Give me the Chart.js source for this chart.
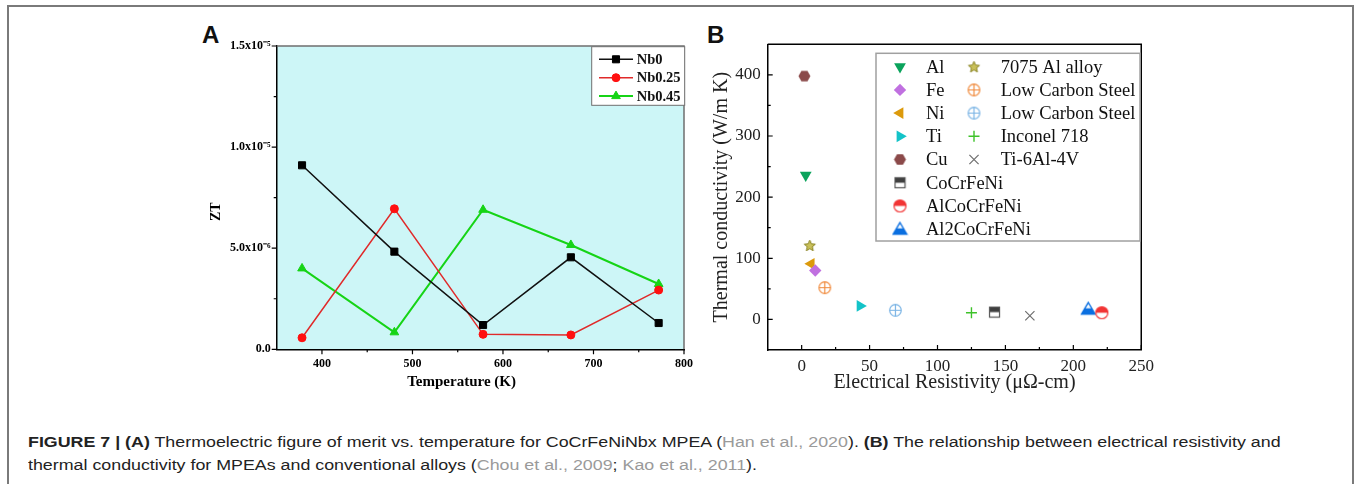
<!DOCTYPE html>
<html>
<head>
<meta charset="utf-8">
<script src="https://cdn.jsdelivr.net/npm/chart.js@4.4.0/dist/chart.umd.min.js"></script>
<style>
  html, body { margin: 0; padding: 0; background: #fff; }
  body { width: 1354px; height: 484px; position: relative; overflow: hidden; font-family: 'Liberation Sans', Arial, sans-serif; }
  .frame { position: absolute; left: 7px; top: 5px; width: 1347px; height: 520px; border: 2px solid #7a7a7a; border-bottom: none; box-sizing: border-box; }
  .panel-label { position: absolute; font: bold 24px 'Liberation Sans', Arial, sans-serif; line-height: 1; color: #111; }
  #chartA { position: absolute; left: 190px; top: 20px; }
  #chartB { position: absolute; left: 700px; top: 20px; }
  .caption { position: absolute; left: 28px; top: 430px; font-size: 15.5px; line-height: 23px; color: #222; white-space: nowrap; transform: scaleX(1.15); transform-origin: 0 0; }
  .caption .ref { color: #9a9a9a; }
</style>
</head>
<body>
<div class="frame"></div>
<div class="panel-label" style="left:202px; top:23px;">A</div>
<div class="panel-label" style="left:707px; top:23px;">B</div>
<canvas id="chartA" width="510" height="380"></canvas>
<canvas id="chartB" width="460" height="380"></canvas>
<div class="caption"><b>FIGURE 7 | (A)</b> Thermoelectric figure of merit vs. temperature for CoCrFeNiNbx MPEA (<span class="ref">Han et al., 2020</span>). <b>(B)</b> The relationship between electrical resistivity and<br>thermal conductivity for MPEAs and conventional alloys (<span class="ref">Chou et al., 2009</span>; <span class="ref">Kao et al., 2011</span>).</div>

<script>
// ZT of CoCrFeNiNbx vs temperature
const temperatures = [378, 480, 578, 675, 772];
const ztNb0   = [9.1e-6, 4.83e-6, 1.2e-6, 4.55e-6, 1.3e-6];
const ztNb025 = [5.7e-7, 6.95e-6, 7.4e-7, 7.1e-7, 2.93e-6];
const ztNb045 = [4.0e-6, 8.4e-7, 6.9e-6, 5.16e-6, 3.23e-6];
const tempTicks = [400, 500, 600, 700, 800];
const ztTicks = [0, 5e-6, 1e-5, 1.5e-5];
const ztTickLabels = ['0.0', '5.0x10⁻⁶', '1.0x10⁻⁵', '1.5x10⁻⁵'];

// resistivity vs thermal conductivity
const alloyNames = ['Al', 'Fe', 'Ni', 'Ti', 'Cu', 'CoCrFeNi', 'AlCoCrFeNi', 'Al2CoCrFeNi',
  '7075 Al alloy', 'Low Carbon Steel', 'Low Carbon Steel', 'Inconel 718', 'Ti-6Al-4V'];
const resistivity  = [3, 10, 7, 43, 2, 142, 221, 211, 6, 17, 69, 125, 168];
const conductivity = [236, 80, 91, 22, 398, 12, 11, 17, 121, 52, 15, 11, 6];
const resTicks = [0, 50, 100, 150, 200, 250];
const condTicks = [0, 100, 200, 300, 400];

const serif = "'Liberation Serif', 'Times New Roman', serif";

// small canvas markers for the symbols Chart.js has no built-in style for
function marker(size, draw) {
  const c = document.createElement('canvas');
  c.width = c.height = size;
  draw(c.getContext('2d'), size / 2);
  return c;
}
const hexagon = marker(15, (g, c) => {
  g.beginPath();
  for (let k = 0; k < 6; k++) {
    const a = k * Math.PI / 3;
    g.lineTo(c + Math.cos(a) * 6, c + Math.sin(a) * 6);
  }
  g.closePath();
  g.fillStyle = '#8b4a4a';
  g.fill();
});
const star = marker(15, (g, c) => {
  g.beginPath();
  for (let k = 0; k < 10; k++) {
    const a = -Math.PI / 2 + k * Math.PI / 5;
    const r = k % 2 ? 2.7 : 5.9;
    g.lineTo(c + Math.cos(a) * r, c + 0.5 + Math.sin(a) * r);
  }
  g.closePath();
  g.fillStyle = '#c9c05a';
  g.fill();
  g.strokeStyle = '#8a8424';
  g.lineWidth = 1;
  g.stroke();
});
function crossedCircle(color) {
  return marker(15, (g, c) => {
    g.strokeStyle = color;
    g.lineWidth = 1.2;
    g.beginPath();
    g.arc(c, c, 5.8, 0, Math.PI * 2);
    g.moveTo(c - 5.8, c); g.lineTo(c + 5.8, c);
    g.moveTo(c, c - 5.8); g.lineTo(c, c + 5.8);
    g.stroke();
  });
}
const halfSquare = marker(13, (g, c) => {
  g.fillStyle = '#fff';
  g.fillRect(c - 5, c - 5, 10, 10);
  g.fillStyle = '#3f3f3f';
  g.fillRect(c - 5, c - 5, 10, 5);
  g.strokeStyle = '#555';
  g.lineWidth = 1.2;
  g.strokeRect(c - 5, c - 5, 10, 10);
});
const halfCircle = marker(15, (g, c) => {
  g.fillStyle = '#fff';
  g.beginPath(); g.arc(c, c, 6, 0, Math.PI * 2); g.fill();
  g.fillStyle = '#f23434';
  g.beginPath(); g.arc(c, c, 6, Math.PI, Math.PI * 2); g.closePath(); g.fill();
  g.strokeStyle = '#f23434';
  g.lineWidth = 1.2;
  g.beginPath(); g.arc(c, c, 6, 0, Math.PI * 2); g.stroke();
});
const halfTriangle = marker(17, (g, c) => {
  const top = c - 6.5, base = c + 5, half = 6.8;
  g.fillStyle = '#fff';
  g.beginPath(); g.moveTo(c, top); g.lineTo(c + half, base); g.lineTo(c - half, base); g.closePath(); g.fill();
  const midY = (top + base) / 2;
  g.fillStyle = '#0b6fe0';
  g.beginPath(); g.moveTo(c - half / 2, midY); g.lineTo(c + half / 2, midY); g.lineTo(c + half, base); g.lineTo(c - half, base); g.closePath(); g.fill();
  g.strokeStyle = '#0b6fe0';
  g.lineWidth = 1.4;
  g.beginPath(); g.moveTo(c, top); g.lineTo(c + half, base); g.lineTo(c - half, base); g.closePath(); g.stroke();
});

const alloyStyles = [
  { style: 'triangle', rotation: 180, radius: 6.8, fill: '#0ba35c' },
  { style: 'rectRot', radius: 6.2, fill: '#c070e0' },
  { style: 'triangle', rotation: -90, radius: 6.8, fill: '#dc9a0c' },
  { style: 'triangle', rotation: 90, radius: 6.8, fill: '#13c3c8' },
  { style: hexagon },
  { style: halfSquare },
  { style: halfCircle },
  { style: halfTriangle },
  { style: star },
  { style: crossedCircle('#f08a3c') },
  { style: crossedCircle('#79b3e4') },
  { style: 'cross', radius: 5.5, line: '#3ec22a', width: 1.4 },
  { style: 'crossRot', radius: 6.5, line: '#6e6e6e', width: 1.2 },
];

// fills the plotting area
const plotBackground = {
  id: 'plotBackground',
  beforeDraw(chart, args, opts) {
    if (!opts.color) return;
    const { ctx, chartArea: a } = chart;
    ctx.save();
    ctx.fillStyle = opts.color;
    ctx.fillRect(a.left, a.top, a.width, a.height);
    ctx.restore();
  }
};

// top/right frame lines plus major and minor tick marks on the left and bottom axes
const frameTicks = {
  id: 'frameTicks',
  afterDraw(chart, args, opts) {
    const { ctx, chartArea: a, scales } = chart;
    ctx.save();
    ctx.strokeStyle = opts.frameColor;
    ctx.lineWidth = opts.frameWidth;
    ctx.beginPath();
    ctx.moveTo(a.left, a.top); ctx.lineTo(a.right, a.top); ctx.lineTo(a.right, a.bottom);
    ctx.stroke();

    const dir = opts.inward ? -1 : 1;
    ctx.strokeStyle = '#000';
    ctx.lineWidth = 1.2;
    const minors = (s) => {
      const v = s.ticks.map(t => t.value);
      const step = v[1] - v[0];
      const out = [];
      for (let m = v[0] - step / 2; m < s.max; m += step) if (m > s.min) out.push(m);
      return out;
    };
    const sx = scales.x, sy = scales.y;
    ctx.beginPath();
    sx.ticks.forEach(t => { const p = sx.getPixelForValue(t.value); ctx.moveTo(p, a.bottom); ctx.lineTo(p, a.bottom + dir * opts.major); });
    minors(sx).forEach(m => { const p = sx.getPixelForValue(m); ctx.moveTo(p, a.bottom); ctx.lineTo(p, a.bottom + dir * opts.minor); });
    sy.ticks.forEach(t => { const p = sy.getPixelForValue(t.value); ctx.moveTo(a.left, p); ctx.lineTo(a.left - dir * opts.major, p); });
    minors(sy).forEach(m => { const p = sy.getPixelForValue(m); ctx.moveTo(a.left, p); ctx.lineTo(a.left - dir * opts.minor, p); });
    ctx.stroke();
    ctx.restore();
  }
};

// boxed legend laid out in columns inside the plot
const boxLegend = {
  id: 'boxLegend',
  afterDraw(chart, args, opts) {
    const { ctx, chartArea: a } = chart;
    const [x0, y0, x1, y1] = opts.box;
    ctx.save();
    ctx.fillStyle = '#fff';
    ctx.fillRect(a.left + x0, a.top + y0, x1 - x0, y1 - y0);
    ctx.strokeStyle = opts.borderColor;
    ctx.lineWidth = opts.borderWidth;
    ctx.strokeRect(a.left + x0, a.top + y0, x1 - x0, y1 - y0);
    ctx.font = opts.font;
    ctx.textBaseline = 'middle';
    ctx.fillStyle = '#111';
    opts.columns.forEach(col => {
      col.items.forEach((i, row) => {
        const ds = chart.data.datasets[i];
        const y = a.top + opts.firstRow + row * opts.rowGap;
        const mx = a.left + col.markerX;
        if (col.lineFrom !== undefined) {
          ctx.strokeStyle = ds.borderColor;
          ctx.lineWidth = ds.borderWidth;
          ctx.beginPath();
          ctx.moveTo(a.left + col.lineFrom, y);
          ctx.lineTo(a.left + col.lineTo, y);
          ctx.stroke();
        }
        ctx.fillStyle = ds.pointBackgroundColor;
        ctx.strokeStyle = ds.pointBorderColor;
        ctx.lineWidth = ds.pointBorderWidth;
        Chart.helpers.drawPoint(ctx, {
          pointStyle: ds.pointStyle, rotation: ds.pointRotation || 0,
          radius: ds.pointRadius, borderWidth: ds.pointBorderWidth
        }, mx, y);
        ctx.fillStyle = '#111';
        ctx.fillText(ds.label, a.left + col.labelX, y + 1);
      });
    });
    ctx.restore();
  }
};

function seriesA(label, values, color, lineColor, style, radius, width) {
  return {
    label,
    data: temperatures.map((t, i) => ({ x: t, y: values[i] })),
    borderColor: lineColor, borderWidth: width,
    pointStyle: style, pointRadius: radius,
    pointBackgroundColor: color, pointBorderColor: color, pointBorderWidth: 1,
    backgroundColor: color
  };
}

new Chart(document.getElementById('chartA'), {
  type: 'line',
  data: {
    datasets: [
      seriesA('Nb0', ztNb0, '#000', '#111', 'rect', 5, 1.5),
      seriesA('Nb0.25', ztNb025, '#ff1010', '#e02a2a', 'circle', 4, 1.5),
      seriesA('Nb0.45', ztNb045, '#16d416', '#16d416', 'triangle', 5, 2)
    ]
  },
  options: {
    responsive: false,
    animation: false,
    layout: { padding: { left: 0, right: 14.3, top: 26, bottom: 0 } },
    plugins: {
      legend: { display: false },
      tooltip: { enabled: false },
      plotBackground: { color: '#cdf6f7' },
      frameTicks: { frameColor: '#6f6f6f', frameWidth: 1.5, inward: false, major: 5, minor: 3 },
      boxLegend: {
        box: [315, 0.7, 408, 59.3], borderColor: '#6f6f6f', borderWidth: 1,
        font: 'bold 14.5px ' + serif, firstRow: 13.3, rowGap: 18.4,
        columns: [{ items: [0, 1, 2], lineFrom: 322.3, lineTo: 356.3, markerX: 339.3, labelX: 360 }]
      }
    },
    scales: {
      x: {
        type: 'linear', min: 350, max: 800,
        afterBuildTicks: s => { s.ticks = tempTicks.map(v => ({ value: v })); },
        afterFit: s => { s.height = 50.7; },
        grid: { drawOnChartArea: false, drawTicks: false },
        border: { color: '#000', width: 1.5 },
        ticks: { font: { family: serif, size: 12, weight: 'bold' }, color: '#000', padding: 7 },
        title: {
          display: true, text: 'Temperature (K)          ', color: '#000',
          font: { family: serif, size: 15, weight: 'bold' }, padding: { top: 0, bottom: 9.3 }
        }
      },
      y: {
        type: 'linear', min: 0, max: 1.5e-5,
        afterBuildTicks: s => { s.ticks = ztTicks.map(v => ({ value: v })); },
        afterFit: s => { s.width = 86.7; },
        grid: { drawOnChartArea: false, drawTicks: false },
        border: { color: '#000', width: 1.5 },
        ticks: {
          font: { family: serif, size: 12, weight: 'bold' }, color: '#000', padding: 6,
          callback: v => ztTickLabels[ztTicks.indexOf(v)]
        },
        title: {
          display: true, text: 'ZT        ', color: '#000',
          font: { family: serif, size: 14, weight: 'bold' }, padding: { top: 18, bottom: 0 }
        }
      }
    }
  },
  plugins: [plotBackground, frameTicks, boxLegend]
});

new Chart(document.getElementById('chartB'), {
  type: 'scatter',
  data: {
    datasets: alloyNames.map((name, i) => {
      const st = alloyStyles[i];
      return {
        label: name,
        data: [{ x: resistivity[i], y: conductivity[i] }],
        pointStyle: st.style,
        pointRotation: st.rotation || 0,
        pointRadius: st.radius || 6,
        pointBackgroundColor: st.fill || 'rgba(0,0,0,0)',
        pointBorderColor: st.line || st.fill || 'rgba(0,0,0,0)',
        pointBorderWidth: st.width || 0,
        backgroundColor: st.fill || 'rgba(0,0,0,0)',
        borderColor: st.line || st.fill || 'rgba(0,0,0,0)'
      };
    })
  },
  options: {
    responsive: false,
    animation: false,
    layout: { padding: { left: 0, right: 13.3, top: 24.3, bottom: 0 } },
    plugins: {
      legend: { display: false },
      tooltip: { enabled: false },
      frameTicks: { frameColor: '#000', frameWidth: 1.5, inward: true, major: 5, minor: 3 },
      boxLegend: {
        box: [108.3, 9, 372.3, 196.7], borderColor: '#a0a0a0', borderWidth: 1.5,
        font: '18.5px ' + serif, firstRow: 22.4, rowGap: 23.2,
        columns: [
          { items: [0, 1, 2, 3, 4, 5, 6, 7], markerX: 132.3, labelX: 158.3 },
          { items: [8, 9, 10, 11, 12], markerX: 206.3, labelX: 233 }
        ]
      }
    },
    scales: {
      x: {
        type: 'linear', min: -25, max: 250,
        afterBuildTicks: s => { s.ticks = resTicks.map(v => ({ value: v })); },
        afterFit: s => { s.height = 50; },
        grid: { drawOnChartArea: false, drawTicks: false },
        border: { color: '#000', width: 1.5 },
        ticks: { font: { family: serif, size: 17 }, color: '#222', padding: 6 },
        title: {
          display: true, text: 'Electrical Resistivity (μΩ-cm)', color: '#222',
          font: { family: serif, size: 20 }, padding: { top: 0, bottom: 5.7 }
        }
      },
      y: {
        type: 'linear', min: -50, max: 450,
        afterBuildTicks: s => { s.ticks = condTicks.map(v => ({ value: v })); },
        afterFit: s => { s.width = 67.7; },
        grid: { drawOnChartArea: false, drawTicks: false },
        border: { color: '#000', width: 1.5 },
        ticks: { font: { family: serif, size: 17 }, color: '#222', padding: 7 },
        title: {
          display: true, text: 'Thermal conductivity (W/m K)', color: '#222',
          font: { family: serif, size: 20 }, padding: { top: 9.7, bottom: 0 }
        }
      }
    }
  },
  plugins: [frameTicks, boxLegend]
});
</script>
</body>
</html>
